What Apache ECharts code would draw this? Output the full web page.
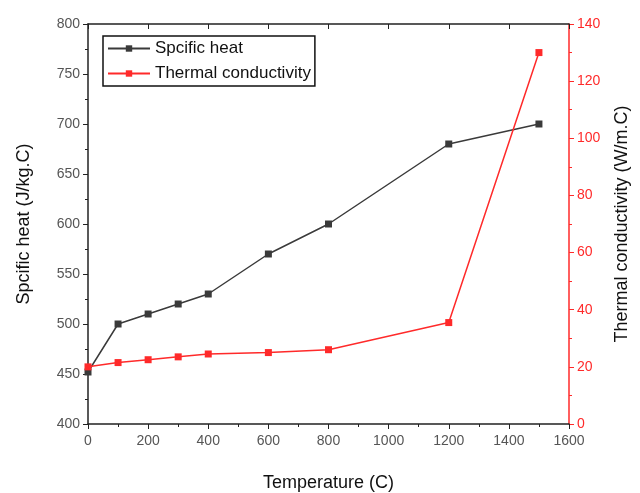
<!DOCTYPE html>
<html>
<head>
<meta charset="utf-8">
<script src="https://cdn.jsdelivr.net/npm/echarts@6/dist/echarts.min.js"></script>
<style>
  html, body { margin: 0; padding: 0; background: #fff; }
  #chart { width: 640px; height: 493px; }
</style>
</head>
<body>
<div id="chart"></div>
<script type="text/javascript">
  // data
  var temps = [0, 100, 200, 300, 400, 600, 800, 1200, 1500];
  var specificHeat = [452, 500, 510, 520, 530, 570, 600, 680, 700];
  var conductivity = [20, 21.5, 22.5, 23.5, 24.5, 25, 26, 35.5, 130];

  function pairs(xs, ys) {
    var out = [];
    for (var i = 0; i < xs.length; i++) out.push([xs[i], ys[i]]);
    return out;
  }
  function plain(v) { return String(v); }

  var font = 'Liberation Sans, Arial, sans-serif';
  var black = '#3a3a3a';
  var red = '#ff2a2a';

  var option = {
    animation: false,
    textStyle: { fontFamily: font },
    grid: { left: 88, right: 71, top: 24, bottom: 69, outerBoundsMode: 'none' },
    legend: {
      left: 103, top: 36,
      orient: 'vertical',
      itemWidth: 42, itemHeight: 8, itemGap: 8,
      padding: [4, 4, 4, 4],
      borderColor: '#111', borderWidth: 1.5,
      textStyle: { fontSize: 17, color: '#111', fontFamily: font },
      data: ['Spcific heat', 'Thermal conductivity']
    },
    xAxis: [{
      type: 'value', min: 0, max: 1600, interval: 200,
      name: 'Temperature (C)', nameLocation: 'middle', nameGap: 50,
      nameTextStyle: { fontSize: 18, color: '#111' },
      axisLine: { onZero: false, lineStyle: { color: '#222', width: 1.5 } },
      axisTick: { length: 5, lineStyle: { color: '#222' } },
      minorTick: { show: true, splitNumber: 2, length: 3, lineStyle: { color: '#222' } },
      axisLabel: { fontSize: 14, color: '#555', margin: 10, formatter: plain },
      splitLine: { show: false }
    }, {
      type: 'value', min: 0, max: 1600, interval: 200, position: 'top',
      axisLine: { onZero: false, lineStyle: { color: '#222', width: 1.5 } },
      axisTick: { inside: true, length: 5, lineStyle: { color: '#222' } },
      axisLabel: { show: false },
      splitLine: { show: false }
    }],
    yAxis: [{
      type: 'value', min: 400, max: 800, interval: 50, position: 'left',
      name: 'Spcific heat (J/kg.C)', nameLocation: 'middle', nameGap: 55,
      nameTextStyle: { fontSize: 18, color: '#111' },
      axisLine: { show: true, onZero: false, lineStyle: { color: '#222', width: 1.5 } },
      axisTick: { length: 5, lineStyle: { color: '#222' } },
      minorTick: { show: true, splitNumber: 2, length: 3, lineStyle: { color: '#222' } },
      axisLabel: { fontSize: 14, color: '#555', margin: 8, formatter: plain },
      splitLine: { show: false }
    }, {
      type: 'value', min: 0, max: 140, interval: 20, position: 'right',
      name: 'Thermal conductivity (W/m.C)', nameLocation: 'middle', nameGap: 44,
      nameRotate: 90,
      nameTextStyle: { fontSize: 18, color: '#111' },
      axisLine: { show: true, onZero: false, lineStyle: { color: red, width: 1.5 } },
      axisTick: { length: 5, lineStyle: { color: red } },
      minorTick: { show: true, splitNumber: 2, length: 3, lineStyle: { color: red } },
      axisLabel: { fontSize: 14, color: red, margin: 8, formatter: plain },
      splitLine: { show: false }
    }],
    series: [{
      name: 'Spcific heat',
      type: 'line',
      yAxisIndex: 0,
      data: pairs(temps, specificHeat),
      symbol: 'rect', symbolSize: 7,
      itemStyle: { color: black },
      lineStyle: { color: black, width: 1.5 }
    }, {
      name: 'Thermal conductivity',
      type: 'line',
      yAxisIndex: 1,
      data: pairs(temps, conductivity),
      symbol: 'rect', symbolSize: 7,
      itemStyle: { color: red },
      lineStyle: { color: red, width: 1.5 }
    }]
  };

  var myChart = echarts.init(document.getElementById('chart'));
  myChart.setOption(option);
</script>
</body>
</html>
